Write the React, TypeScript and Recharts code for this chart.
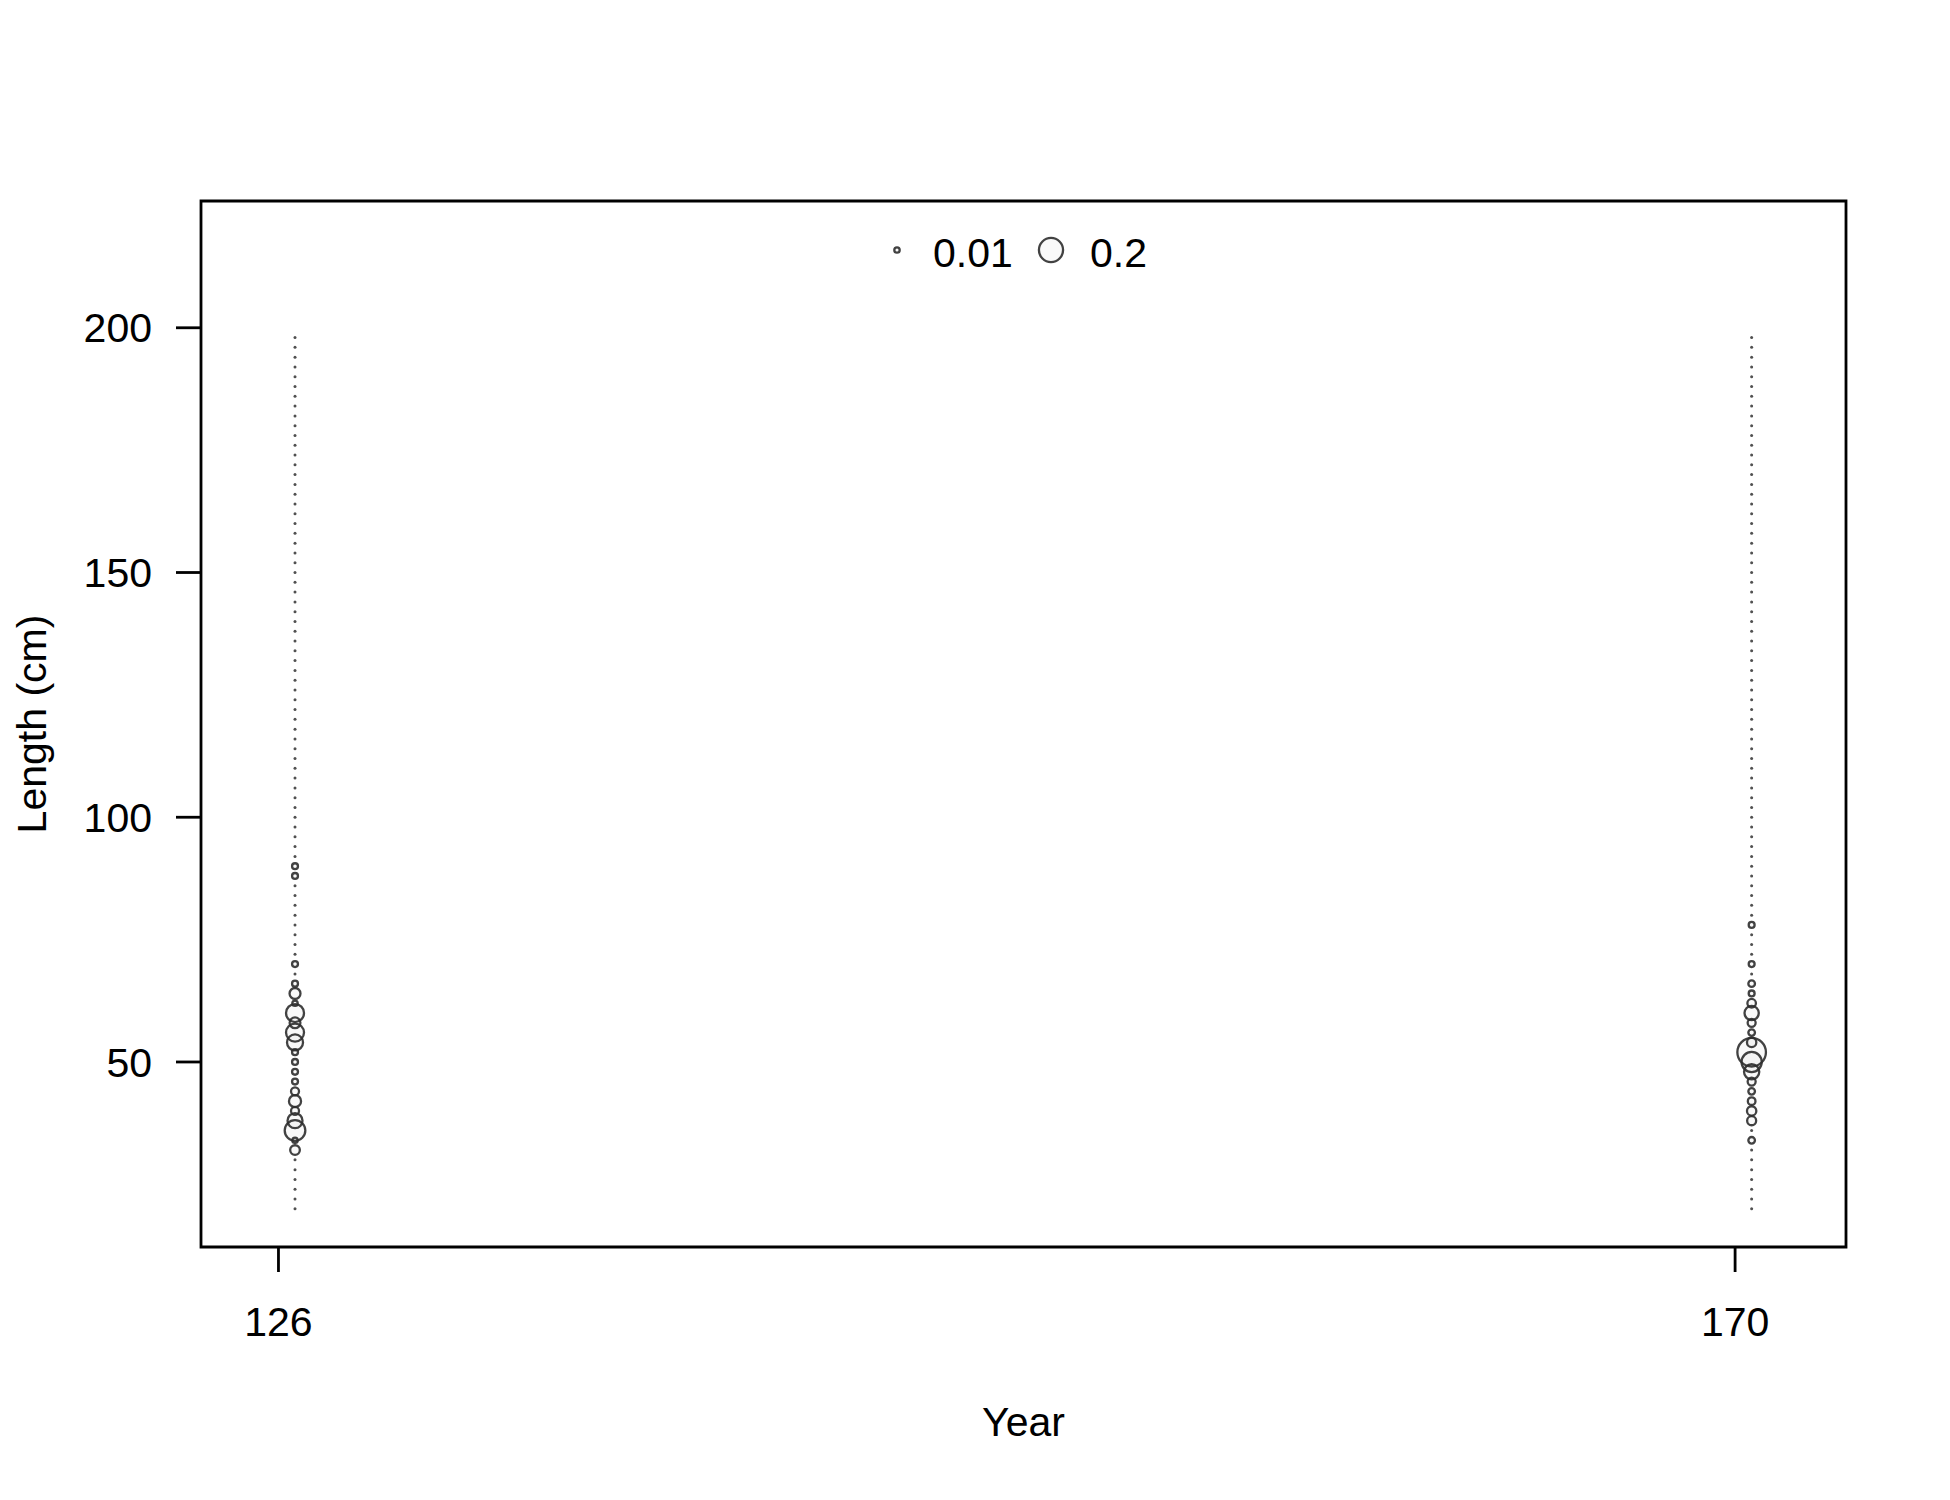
import { ScatterChart, Scatter, XAxis, YAxis, ReferenceArea, Legend, Label } from 'recharts'

const YEARS = [126, 170]
const YEAR_POS = [126.5, 170.5]

const LENGTH_BINS = [
  20, 22, 24, 26, 28, 30, 32, 34, 36, 38, 40, 42, 44, 46, 48, 50, 52, 54, 56, 58,
  60, 62, 64, 66, 68, 70, 72, 74, 76, 78, 80, 82, 84, 86, 88, 90, 92, 94, 96, 98,
  100, 102, 104, 106, 108, 110, 112, 114, 116, 118, 120, 122, 124, 126, 128, 130,
  132, 134, 136, 138, 140, 142, 144, 146, 148, 150, 152, 154, 156, 158, 160, 162,
  164, 166, 168, 170, 172, 174, 176, 178, 180, 182, 184, 186, 188, 190, 192, 194,
  196, 198,
]

// non-zero proportions per length bin
const LEN_126 = [32, 34, 36, 38, 40, 42, 44, 46, 48, 50, 52, 54, 56, 58, 60, 62, 64, 66, 70, 88, 90]
const PROP_126 = [0.032, 0.01, 0.146, 0.077, 0.022, 0.05, 0.022, 0.012, 0.012, 0.012, 0.012, 0.088, 0.111, 0.04, 0.111, 0.01, 0.041, 0.012, 0.012, 0.012, 0.012]

const LEN_170 = [34, 38, 40, 42, 44, 46, 48, 50, 52, 54, 56, 58, 60, 62, 64, 66, 70, 78]
const PROP_170 = [0.015, 0.028, 0.03, 0.02, 0.015, 0.022, 0.08, 0.14, 0.28, 0.03, 0.015, 0.022, 0.07, 0.025, 0.012, 0.015, 0.012, 0.012]

const LEGEND_P = [0.01, 0.2]
const Y_TICKS = [50, 100, 150, 200]

const X_DOMAIN = [123.66, 173.35]
const Y_DOMAIN = [12.2, 225.9]

const FONT = '"Liberation Sans", Arial, sans-serif'
const FONT_SIZE = 41
const STROKE = 'rgba(45,45,45,0.9)'

const radius = (p: number) => 27 * Math.sqrt(p)

function buildSeries(xPos: number, lens: number[], props: number[]) {
  return LENGTH_BINS.map((len) => {
    const i = lens.indexOf(len)
    return { x: xPos, y: len, p: i >= 0 ? props[i] : 0 }
  })
}

const series = [
  buildSeries(YEAR_POS[0], LEN_126, PROP_126),
  buildSeries(YEAR_POS[1], LEN_170, PROP_170),
]

function Bubble(props: any) {
  const { cx, cy, payload } = props
  if (cx == null || cy == null) return null
  if (!payload.p) return <circle cx={cx} cy={cy} r={1.5} fill="#505050" />
  return <circle cx={cx} cy={cy} r={radius(payload.p)} fill="rgba(0,0,0,0.025)" stroke={STROKE} strokeWidth={2.3} />
}

function BubbleLegend() {
  const circleX = [897, 1051]
  const textX = [933, 1090]
  return (
    <svg width={1950} height={300} style={{ display: 'block' }}>
      {LEGEND_P.map((p, i) => (
        <g key={p}>
          <circle cx={circleX[i]} cy={250} r={radius(p)} fill="rgba(0,0,0,0.025)" stroke={STROKE} strokeWidth={2.3} />
          <text x={textX[i]} y={252} dy="0.355em" fontSize={FONT_SIZE} fontFamily={FONT} fill="#000">
            {String(p)}
          </text>
        </g>
      ))}
    </svg>
  )
}

export default function App() {
  return (
    <div style={{ position: 'absolute', left: 0, top: 0, width: 1950, height: 1500, background: '#fff' }}>
      <ScatterChart width={1950} height={1500} margin={{ top: 201, right: 104, bottom: 53, left: 11 }}>
        <XAxis
          type="number"
          dataKey="x"
          domain={X_DOMAIN}
          ticks={YEARS}
          allowDataOverflow
          axisLine={false}
          tickLine={{ stroke: '#000', strokeWidth: 2.8 }}
          tickSize={25}
          tickMargin={35}
          height={200}
          tick={{ fill: '#000', fontSize: FONT_SIZE, fontFamily: FONT }}
        >
          <Label
            content={({ viewBox }: any) => (
              <text
                x={viewBox.x + viewBox.width / 2}
                y={viewBox.y + 189}
                textAnchor="middle"
                fontSize={FONT_SIZE}
                fontFamily={FONT}
                fill="#000"
              >
                Year
              </text>
            )}
          />
        </XAxis>
        <YAxis
          type="number"
          dataKey="y"
          domain={Y_DOMAIN}
          ticks={Y_TICKS}
          allowDataOverflow
          axisLine={false}
          tickLine={{ stroke: '#000', strokeWidth: 2.8 }}
          tickSize={25}
          tickMargin={24}
          width={190}
          tick={{ fill: '#000', fontSize: FONT_SIZE, fontFamily: FONT }}
        >
          <Label
            content={({ viewBox }: any) => {
              const x = 31
              const y = viewBox.y + viewBox.height / 2
              return (
                <text
                  x={x}
                  y={y}
                  dy="0.355em"
                  transform={`rotate(-90 ${x} ${y})`}
                  textAnchor="middle"
                  fontSize={FONT_SIZE}
                  fontFamily={FONT}
                  fill="#000"
                >
                  Length (cm)
                </text>
              )
            }}
          />
        </YAxis>
        <Legend
          layout="horizontal"
          verticalAlign="middle"
          align="center"
          wrapperStyle={{ position: 'absolute', left: 0, top: 0, width: 1950, height: 300 }}
          content={() => <BubbleLegend />}
        />
        {series.map((data, i) => (
          <Scatter key={YEARS[i]} data={data} shape={Bubble} isAnimationActive={false} />
        ))}
        <ReferenceArea
          x1={X_DOMAIN[0]}
          x2={X_DOMAIN[1]}
          y1={Y_DOMAIN[0]}
          y2={Y_DOMAIN[1]}
          fill="none"
          stroke="#000"
          strokeWidth={2.8}
          ifOverflow="visible"
        />
      </ScatterChart>
    </div>
  )
}
